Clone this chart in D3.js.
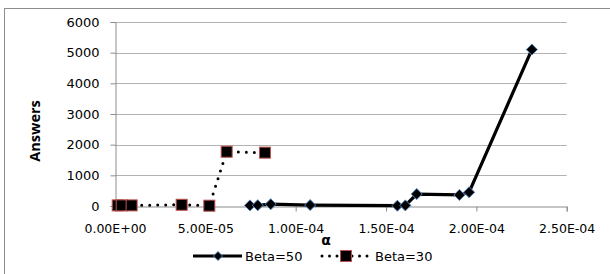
<!DOCTYPE html>
<html>
<head>
<meta charset="utf-8">
<script src="https://cdn.jsdelivr.net/npm/d3@7"></script>
<style>
  body { margin: 0; background: #fff; }
  svg { display: block; font-family: "DejaVu Sans", sans-serif; }
</style>
</head>
<body>
<svg width="610" height="274"></svg>
<script>
// Beta=50 series
const beta50Alpha = [7.47e-5, 7.9e-5, 8.62e-5, 1.08e-4, 1.563e-4, 1.607e-4, 1.67e-4, 1.906e-4, 1.96e-4, 2.307e-4];
const beta50Answers = [20, 25, 60, 30, 10, 20, 390, 360, 450, 5100];
// Beta=30 series
const beta30Alpha = [1.5e-6, 3.7e-6, 9.2e-6, 3.69e-5, 5.22e-5, 6.18e-5, 8.3e-5];
const beta30Answers = [20, 20, 20, 40, 10, 1770, 1740];

const xTicks = [0, 5e-5, 1e-4, 1.5e-4, 2e-4, 2.5e-4];
const yTicks = [0, 1000, 2000, 3000, 4000, 5000, 6000];

const svg = d3.select("svg");

// outer chart border
svg.append("rect")
    .attr("x", 4.5).attr("y", 8.5)
    .attr("width", 620).attr("height", 280)
    .attr("fill", "none").attr("stroke", "#8c8c8c").attr("stroke-width", 1);

const x = d3.scaleLinear().domain([0, 2.5e-4]).range([115, 566.7]);
const y = d3.scaleLinear().domain([0, 6000]).range([206, 22]);

// gridlines
svg.append("g")
    .selectAll("line")
    .data(yTicks.slice(1))
    .enter().append("line")
    .attr("x1", x(0)).attr("x2", x(2.5e-4))
    .attr("y1", d => Math.round(y(d)) + 0.5).attr("y2", d => Math.round(y(d)) + 0.5)
    .attr("stroke", "#b3b3b3").attr("stroke-width", 1);

// y axis
const yAxis = svg.append("g")
    .attr("transform", `translate(${x(0) + 0.5},0)`)
    .call(d3.axisLeft(y).tickValues(yTicks).tickSize(5).tickPadding(11).tickFormat(d3.format("d")));
yAxis.select(".domain").attr("stroke", "#8c8c8c");
yAxis.selectAll(".tick line").attr("stroke", "#8c8c8c");
yAxis.selectAll("text").attr("font-size", 13).attr("fill", "#000").attr("font-family", "DejaVu Sans");

// x axis
const xAxis = svg.append("g")
    .attr("transform", `translate(0,${y(0) + 0.5})`)
    .call(d3.axisBottom(x).tickValues(xTicks).tickSize(5).tickPadding(13)
        .tickFormat(d => d.toExponential(2).toUpperCase().replace(/E([+-])(\d)$/, "E$10$2")));
xAxis.select(".domain").attr("stroke", "#8c8c8c");
xAxis.selectAll(".tick line").attr("stroke", "#8c8c8c");
xAxis.selectAll("text").attr("font-size", 12.5).attr("fill", "#000").attr("font-family", "DejaVu Sans");

// axis titles
svg.append("text")
    .attr("transform", "translate(40,131) rotate(-90)")
    .attr("text-anchor", "middle")
    .attr("font-family", "Open Sans, sans-serif")
    .attr("font-weight", "bold")
    .attr("font-size", 14.5)
    .text("Answers");

svg.append("text")
    .attr("x", 326).attr("y", 245)
    .attr("text-anchor", "middle")
    .attr("font-weight", "bold")
    .attr("font-size", 14)
    .text("α");

const line = d3.line().x(d => x(d[0])).y(d => y(d[1]));

const beta50 = beta50Alpha.map((a, i) => [a, beta50Answers[i]]);
const beta30 = beta30Alpha.map((a, i) => [a, beta30Answers[i]]);

// Beta=30 dotted
svg.append("path")
    .datum(beta30)
    .attr("d", line)
    .attr("fill", "none")
    .attr("stroke", "#000")
    .attr("stroke-width", 3)
    .attr("stroke-linecap", "round")
    .attr("stroke-dasharray", "0 8");

// Beta=50 solid
svg.append("path")
    .datum(beta50)
    .attr("d", line)
    .attr("fill", "none")
    .attr("stroke", "#000")
    .attr("stroke-width", 3.2);

const diamondPath = r => `M0,${-r}L${r},0L0,${r}L${-r},0Z`;

svg.append("g")
    .selectAll("path")
    .data(beta50)
    .enter().append("path")
    .attr("d", diamondPath(5.5))
    .attr("transform", d => `translate(${x(d[0])},${y(d[1])})`)
    .attr("fill", "#000")
    .attr("stroke", "#4f81bd")
    .attr("stroke-width", 1);

svg.append("g")
    .selectAll("rect")
    .data(beta30)
    .enter().append("rect")
    .attr("x", d => x(d[0]) - 5.5)
    .attr("y", d => y(d[1]) - 5.5)
    .attr("width", 11).attr("height", 11)
    .attr("fill", "#000")
    .attr("stroke", "#c0504d")
    .attr("stroke-width", 1);

// legend
const legendY = 256;
const lg = svg.append("g");
lg.append("line")
    .attr("x1", 193).attr("x2", 242).attr("y1", legendY).attr("y2", legendY)
    .attr("stroke", "#000").attr("stroke-width", 3.2);
lg.append("path")
    .attr("d", diamondPath(4.5))
    .attr("transform", `translate(218,${legendY})`)
    .attr("fill", "#000").attr("stroke", "#4f81bd");
lg.append("text")
    .attr("x", 245).attr("y", legendY + 5)
    .attr("font-size", 13)
    .text("Beta=50");

lg.append("line")
    .attr("x1", 322).attr("x2", 370).attr("y1", legendY).attr("y2", legendY)
    .attr("stroke", "#000").attr("stroke-width", 3)
    .attr("stroke-linecap", "round").attr("stroke-dasharray", "0 7.5");
lg.append("rect")
    .attr("x", 340.5).attr("y", legendY - 5.5)
    .attr("width", 11).attr("height", 11)
    .attr("fill", "#000").attr("stroke", "#c0504d");
lg.append("text")
    .attr("x", 375).attr("y", legendY + 5)
    .attr("font-size", 13)
    .text("Beta=30");
</script>
</body>
</html>
